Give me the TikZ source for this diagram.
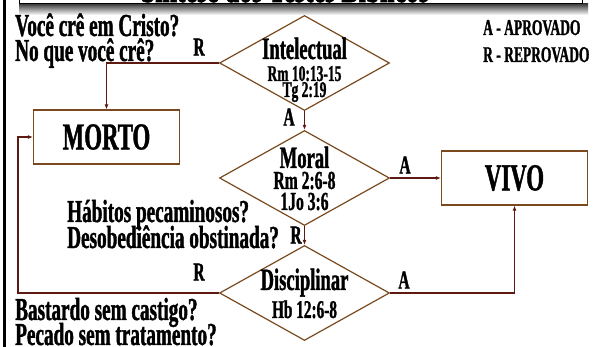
\documentclass[tikz,border=0pt]{standalone}
\usepackage{fontspec}
\setmainfont[FakeStretch=0.6, BoldFeatures={FakeBold=1.2}]{Liberation Serif}
\usetikzlibrary{shapes.geometric,arrows.meta}

\definecolor{shapecol}{RGB}{122,74,30}
\definecolor{linkcol}{RGB}{92,26,18}

\tikzset{
	decision/.style={diamond, draw=shapecol, line width=1.2pt, minimum width=170pt, minimum height=95pt, inner sep=0pt},
	outcome/.style={rectangle, draw=shapecol, line width=1.2pt, minimum width=146pt, minimum height=54pt, inner sep=0pt, font=\bfseries\fontsize{38}{38}\selectfont},
	conn/.style={draw=linkcol, line width=1.1pt, -{Latex[length=5pt,width=4pt]}},
	question/.style={anchor=base west, inner sep=0pt, font=\bfseries\fontsize{32}{32}\selectfont},
	legendtxt/.style={anchor=base west, inner sep=0pt, font=\bfseries\fontsize{22.5}{23}\selectfont},
	dname/.style={anchor=base, inner sep=0pt, font=\bfseries\fontsize{31}{31}\selectfont},
	dref/.style={anchor=base, inner sep=0pt, font=\bfseries\fontsize{22.5}{23}\selectfont},
	answer/.style={inner sep=0pt, font=\bfseries\fontsize{26}{26}\selectfont}
}

\begin{document}
\begin{tikzpicture}[x=1pt,y=-1pt]
	\useasboundingbox (0,0) rectangle (595,347);
	\clip (0,0) rectangle (595,347);

	% title strip and frame
	\shade[top color=black!75, bottom color=white] (19,4) rectangle (588,15);
	\draw[fill=white, line width=1pt] (19,-40) rectangle (582,4);
	\node[anchor=base, inner sep=0pt, font=\bfseries\fontsize{43}{43}\selectfont] (title) at (285,2) {Síntese dos Testes Bíblicos};
	\draw[line width=2.5pt] (4.5,0) -- (4.5,347);

	% tests
	\node[decision] (intel) at (304.5,63) {};
	\node[decision] (moral) at (304.5,178) {};
	\node[decision] (disc) at (304.5,293) {};

	\node[dname, yshift=4pt] (intelname) at (intel.center) {Intelectual};
	\node[dref, yshift=-18pt] (intelref1) at (intel.center) {Rm 10:13-15};
	\node[dref, yshift=-34pt] (intelref2) at (intel.center) {Tg 2:19};

	\node[dname, yshift=10pt] (moralname) at (moral.center) {Moral};
	\node[dref, yshift=-11pt, font=\bfseries\fontsize{26}{26}\selectfont] (moralref1) at (moral.center) {Rm 2:6-8};
	\node[dref, yshift=-32pt, font=\bfseries\fontsize{26}{26}\selectfont] (moralref2) at (moral.center) {1Jo 3:6};

	\node[dname, yshift=3pt] (discname) at (disc.center) {Disciplinar};
	\node[dref, yshift=-25pt, font=\bfseries\fontsize{25.5}{26}\selectfont] (discref) at (disc.center) {Hb 12:6-8};

	% results
	\node[outcome] (morto) at (106.5,137) {MORTO};
	\node[outcome] (vivo) at (514.5,178) {VIVO};

	% connectors
	\coordinate (turn) at (18,293);
	\draw[conn] (intel.west) -| (morto.north);
	\draw[conn] (intel.south) -- (moral.north);
	\draw[conn] (moral.east) -- (vivo.west);
	\draw[conn] (moral.south) -- (disc.north);
	\draw[conn] (disc.west) -- (turn) |- (morto.west);
	\draw[conn] (disc.east) -| (vivo.south);

	% answers
	\node[answer] (intelR) at (199,47) {R};
	\node[answer] (intelA) at (289,117) {A};
	\node[answer] (moralA) at (405,165) {A};
	\node[answer] (moralR) at (296,235) {R};
	\node[answer] (discR) at (199,272) {R};
	\node[answer] (discA) at (404,280) {A};

	% questions
	\node[question] (q1) at (15,36) {Você crê em Cristo?};
	\node[question] (q2) at (15,61) {No que você crê?};
	\node[question] (q3) at (67,222) {Hábitos pecaminosos?};
	\node[question] (q4) at (67,248) {Desobediência obstinada?};
	\node[question] (q5) at (15,320) {Bastardo sem castigo?};
	\node[question] (q6) at (15,345) {Pecado sem tratamento?};

	% legend
	\node[legendtxt] (legA) at (483,35) {A - APROVADO};
	\node[legendtxt] (legR) at (483,62) {R - REPROVADO};
\end{tikzpicture}
\end{document}
